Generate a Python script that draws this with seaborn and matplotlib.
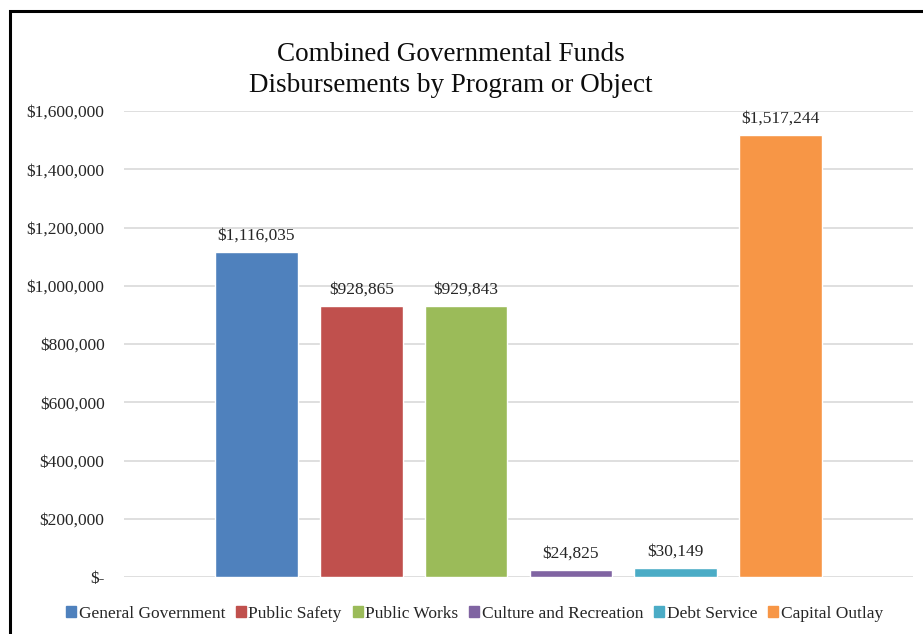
import matplotlib
matplotlib.use("Agg")
import matplotlib.pyplot as plt
import matplotlib.patches as mpatches
import seaborn as sns
import pandas as pd

programs = ['General Government', 'Public Safety', 'Public Works',
            'Culture and Recreation', 'Debt Service', 'Capital Outlay']
amounts = [1116035, 928865, 929843, 24825, 30149, 1517244]
colors = ['#4F81BD', '#C0504D', '#9BBB59', '#8064A2', '#4BACC6', '#F79646']
y_ticks = [0, 200000, 400000, 600000, 800000, 1000000, 1200000, 1400000, 1600000]


def money(v):
    return '$-' if v == 0 else f'${v:,.0f}'


def main():
    sns.set_theme(style='white')
    plt.rcParams['font.family'] = ['Liberation Serif', 'DejaVu Serif']

    df = pd.DataFrame({'program': programs, 'amount': amounts})

    fig = plt.figure(figsize=(9.23, 6.34), dpi=100)
    ax = fig.add_axes([124 / 923, 1 - 577 / 634, 789 / 923, 466 / 634])

    sns.barplot(data=df, x='program', y='amount', hue='program',
                palette=colors, width=0.79, dodge=False, legend=False,
                saturation=1, ax=ax)

    for cont in ax.containers:
        ax.bar_label(cont, labels=[money(b.get_height()) for b in cont],
                     padding=6, fontsize=12.5, color='#262626')

    ax.set_ylim(0, 1600000)
    ax.set_xlim(-1.262, 6.262)
    ax.set_yticks(y_ticks)
    ax.set_yticklabels([money(v) for v in y_ticks], fontsize=12.5, color='#262626')
    ax.set_xticks([])
    ax.set_xlabel('')
    ax.set_ylabel('')
    ax.tick_params(axis='y', length=0, pad=14)
    ax.yaxis.grid(True, color='#D9D9D9', linewidth=1.2)
    ax.set_axisbelow(True)
    for s in ax.spines.values():
        s.set_visible(False)

    fig.text(451 / 923, 1 - 70 / 634, 'Combined Governmental Funds\nDisbursements by Program or Object',
             ha='center', va='center', fontsize=19.5, linespacing=1.3, color='#0D0D0D')

    handles = [mpatches.Patch(color=c, label=p) for c, p in zip(colors, programs)]
    fig.legend(handles=handles, loc='center', bbox_to_anchor=(0.514, 1 - 614 / 634),
               ncol=6, frameon=False, fontsize=12.5, handlelength=0.58,
               handleheight=0.58, handletextpad=0.15, columnspacing=0.62)

    # outer chart border (only top and left visible in the crop)
    fig.patches.append(mpatches.Rectangle((10 / 923, -0.1), 1.2, 1 - 11 / 634 + 0.1,
                                          transform=fig.transFigure, fill=False,
                                          edgecolor='black', linewidth=2.2))

    fig.savefig('out.png', dpi=100)


if __name__ == '__main__':
    main()
